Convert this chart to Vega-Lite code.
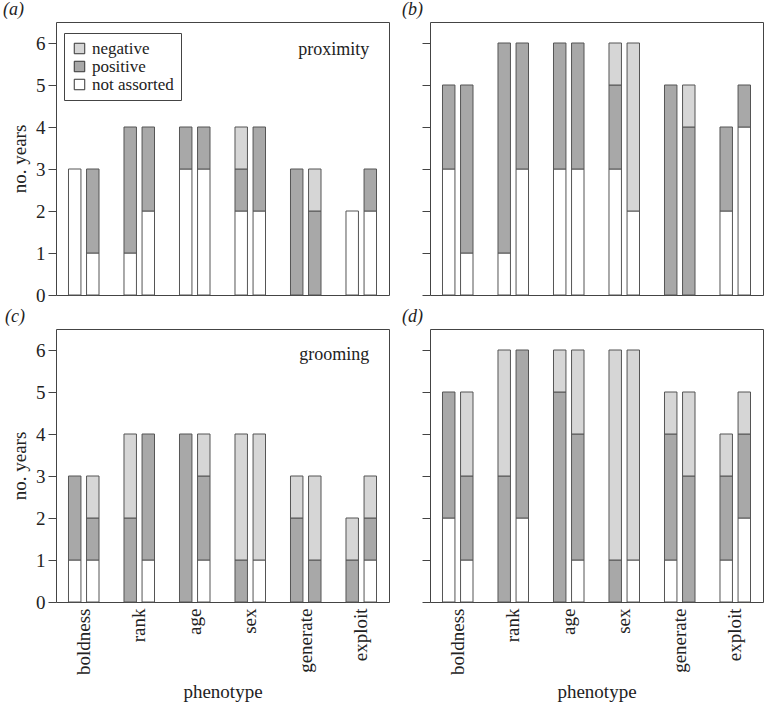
{
  "$schema": "https://vega.github.io/schema/vega-lite/v6.json",
  "padding": {"left": 2, "top": 0, "right": 2, "bottom": 0},
  "background": "white",
  "datasets": {
    "d": [
      {"p": "a", "ph": "boldness", "b": "1", "t": "not assorted", "n": 3},
      {"p": "a", "ph": "boldness", "b": "2", "t": "not assorted", "n": 1},
      {"p": "a", "ph": "boldness", "b": "2", "t": "positive", "n": 2},
      {"p": "a", "ph": "rank", "b": "1", "t": "not assorted", "n": 1},
      {"p": "a", "ph": "rank", "b": "1", "t": "positive", "n": 3},
      {"p": "a", "ph": "rank", "b": "2", "t": "not assorted", "n": 2},
      {"p": "a", "ph": "rank", "b": "2", "t": "positive", "n": 2},
      {"p": "a", "ph": "age", "b": "1", "t": "not assorted", "n": 3},
      {"p": "a", "ph": "age", "b": "1", "t": "positive", "n": 1},
      {"p": "a", "ph": "age", "b": "2", "t": "not assorted", "n": 3},
      {"p": "a", "ph": "age", "b": "2", "t": "positive", "n": 1},
      {"p": "a", "ph": "sex", "b": "1", "t": "not assorted", "n": 2},
      {"p": "a", "ph": "sex", "b": "1", "t": "positive", "n": 1},
      {"p": "a", "ph": "sex", "b": "1", "t": "negative", "n": 1},
      {"p": "a", "ph": "sex", "b": "2", "t": "not assorted", "n": 2},
      {"p": "a", "ph": "sex", "b": "2", "t": "positive", "n": 2},
      {"p": "a", "ph": "generate", "b": "1", "t": "positive", "n": 3},
      {"p": "a", "ph": "generate", "b": "2", "t": "positive", "n": 2},
      {"p": "a", "ph": "generate", "b": "2", "t": "negative", "n": 1},
      {"p": "a", "ph": "exploit", "b": "1", "t": "not assorted", "n": 2},
      {"p": "a", "ph": "exploit", "b": "2", "t": "not assorted", "n": 2},
      {"p": "a", "ph": "exploit", "b": "2", "t": "positive", "n": 1},

      {"p": "b", "ph": "boldness", "b": "1", "t": "not assorted", "n": 3},
      {"p": "b", "ph": "boldness", "b": "1", "t": "positive", "n": 2},
      {"p": "b", "ph": "boldness", "b": "2", "t": "not assorted", "n": 1},
      {"p": "b", "ph": "boldness", "b": "2", "t": "positive", "n": 4},
      {"p": "b", "ph": "rank", "b": "1", "t": "not assorted", "n": 1},
      {"p": "b", "ph": "rank", "b": "1", "t": "positive", "n": 5},
      {"p": "b", "ph": "rank", "b": "2", "t": "not assorted", "n": 3},
      {"p": "b", "ph": "rank", "b": "2", "t": "positive", "n": 3},
      {"p": "b", "ph": "age", "b": "1", "t": "not assorted", "n": 3},
      {"p": "b", "ph": "age", "b": "1", "t": "positive", "n": 3},
      {"p": "b", "ph": "age", "b": "2", "t": "not assorted", "n": 3},
      {"p": "b", "ph": "age", "b": "2", "t": "positive", "n": 3},
      {"p": "b", "ph": "sex", "b": "1", "t": "not assorted", "n": 3},
      {"p": "b", "ph": "sex", "b": "1", "t": "positive", "n": 2},
      {"p": "b", "ph": "sex", "b": "1", "t": "negative", "n": 1},
      {"p": "b", "ph": "sex", "b": "2", "t": "not assorted", "n": 2},
      {"p": "b", "ph": "sex", "b": "2", "t": "negative", "n": 4},
      {"p": "b", "ph": "generate", "b": "1", "t": "positive", "n": 5},
      {"p": "b", "ph": "generate", "b": "2", "t": "positive", "n": 4},
      {"p": "b", "ph": "generate", "b": "2", "t": "negative", "n": 1},
      {"p": "b", "ph": "exploit", "b": "1", "t": "not assorted", "n": 2},
      {"p": "b", "ph": "exploit", "b": "1", "t": "positive", "n": 2},
      {"p": "b", "ph": "exploit", "b": "2", "t": "not assorted", "n": 4},
      {"p": "b", "ph": "exploit", "b": "2", "t": "positive", "n": 1},

      {"p": "c", "ph": "boldness", "b": "1", "t": "not assorted", "n": 1},
      {"p": "c", "ph": "boldness", "b": "1", "t": "positive", "n": 2},
      {"p": "c", "ph": "boldness", "b": "2", "t": "not assorted", "n": 1},
      {"p": "c", "ph": "boldness", "b": "2", "t": "positive", "n": 1},
      {"p": "c", "ph": "boldness", "b": "2", "t": "negative", "n": 1},
      {"p": "c", "ph": "rank", "b": "1", "t": "positive", "n": 2},
      {"p": "c", "ph": "rank", "b": "1", "t": "negative", "n": 2},
      {"p": "c", "ph": "rank", "b": "2", "t": "not assorted", "n": 1},
      {"p": "c", "ph": "rank", "b": "2", "t": "positive", "n": 3},
      {"p": "c", "ph": "age", "b": "1", "t": "positive", "n": 4},
      {"p": "c", "ph": "age", "b": "2", "t": "not assorted", "n": 1},
      {"p": "c", "ph": "age", "b": "2", "t": "positive", "n": 2},
      {"p": "c", "ph": "age", "b": "2", "t": "negative", "n": 1},
      {"p": "c", "ph": "sex", "b": "1", "t": "positive", "n": 1},
      {"p": "c", "ph": "sex", "b": "1", "t": "negative", "n": 3},
      {"p": "c", "ph": "sex", "b": "2", "t": "not assorted", "n": 1},
      {"p": "c", "ph": "sex", "b": "2", "t": "negative", "n": 3},
      {"p": "c", "ph": "generate", "b": "1", "t": "positive", "n": 2},
      {"p": "c", "ph": "generate", "b": "1", "t": "negative", "n": 1},
      {"p": "c", "ph": "generate", "b": "2", "t": "positive", "n": 1},
      {"p": "c", "ph": "generate", "b": "2", "t": "negative", "n": 2},
      {"p": "c", "ph": "exploit", "b": "1", "t": "positive", "n": 1},
      {"p": "c", "ph": "exploit", "b": "1", "t": "negative", "n": 1},
      {"p": "c", "ph": "exploit", "b": "2", "t": "not assorted", "n": 1},
      {"p": "c", "ph": "exploit", "b": "2", "t": "positive", "n": 1},
      {"p": "c", "ph": "exploit", "b": "2", "t": "negative", "n": 1},

      {"p": "d", "ph": "boldness", "b": "1", "t": "not assorted", "n": 2},
      {"p": "d", "ph": "boldness", "b": "1", "t": "positive", "n": 3},
      {"p": "d", "ph": "boldness", "b": "2", "t": "not assorted", "n": 1},
      {"p": "d", "ph": "boldness", "b": "2", "t": "positive", "n": 2},
      {"p": "d", "ph": "boldness", "b": "2", "t": "negative", "n": 2},
      {"p": "d", "ph": "rank", "b": "1", "t": "positive", "n": 3},
      {"p": "d", "ph": "rank", "b": "1", "t": "negative", "n": 3},
      {"p": "d", "ph": "rank", "b": "2", "t": "not assorted", "n": 2},
      {"p": "d", "ph": "rank", "b": "2", "t": "positive", "n": 4},
      {"p": "d", "ph": "age", "b": "1", "t": "positive", "n": 5},
      {"p": "d", "ph": "age", "b": "1", "t": "negative", "n": 1},
      {"p": "d", "ph": "age", "b": "2", "t": "not assorted", "n": 1},
      {"p": "d", "ph": "age", "b": "2", "t": "positive", "n": 3},
      {"p": "d", "ph": "age", "b": "2", "t": "negative", "n": 2},
      {"p": "d", "ph": "sex", "b": "1", "t": "positive", "n": 1},
      {"p": "d", "ph": "sex", "b": "1", "t": "negative", "n": 5},
      {"p": "d", "ph": "sex", "b": "2", "t": "not assorted", "n": 1},
      {"p": "d", "ph": "sex", "b": "2", "t": "negative", "n": 5},
      {"p": "d", "ph": "generate", "b": "1", "t": "not assorted", "n": 1},
      {"p": "d", "ph": "generate", "b": "1", "t": "positive", "n": 3},
      {"p": "d", "ph": "generate", "b": "1", "t": "negative", "n": 1},
      {"p": "d", "ph": "generate", "b": "2", "t": "positive", "n": 3},
      {"p": "d", "ph": "generate", "b": "2", "t": "negative", "n": 2},
      {"p": "d", "ph": "exploit", "b": "1", "t": "not assorted", "n": 1},
      {"p": "d", "ph": "exploit", "b": "1", "t": "positive", "n": 2},
      {"p": "d", "ph": "exploit", "b": "1", "t": "negative", "n": 1},
      {"p": "d", "ph": "exploit", "b": "2", "t": "not assorted", "n": 2},
      {"p": "d", "ph": "exploit", "b": "2", "t": "positive", "n": 2},
      {"p": "d", "ph": "exploit", "b": "2", "t": "negative", "n": 1}
    ]
  },
  "spacing": 1,
  "resolve": {"legend": {"color": "independent"}},
  "vconcat": [
    {
      "bounds": "flush",
      "spacing": 41,
      "resolve": {"legend": {"color": "independent"}},
      "hconcat": [
        {
          "width": 333, "height": 273,
          "title": {"text": "(a)", "anchor": "start", "frame": "group", "dx": -53, "offset": 3, "fontStyle": "italic", "fontWeight": "normal", "fontSize": 18, "font": "Liberation Serif", "color": "#222"},
          "data": {"name": "d"},
          "transform": [{"filter": "datum.p == 'a'"}, {"calculate": "indexof(['not assorted','positive','negative'], datum.t)", "as": "k"}],
          "layer": [
            {
              "mark": {"type": "bar", "stroke": "#555", "strokeWidth": 1},
              "encoding": {
                "x": {"field": "ph", "type": "nominal", "sort": ["boldness", "rank", "age", "sex", "generate", "exploit"], "scale": {"paddingInner": 0.45, "paddingOuter": 0.225}, "axis": null},
                "xOffset": {"field": "b", "type": "nominal", "scale": {"paddingInner": 0.31, "paddingOuter": 0}},
                "y": {"field": "n", "type": "quantitative", "stack": "zero", "scale": {"domain": [0, 6.5], "nice": false}, "axis": {"values": [0, 1, 2, 3, 4, 5, 6], "title": "no. years"}},
                "color": {"field": "t", "type": "nominal", "scale": {"domain": ["negative", "positive", "not assorted"], "range": ["#d6d6d6", "#a8a8a8", "#ffffff"]}, "legend": {"orient": "none", "legendX": 8, "legendY": 11, "title": null}},
                "order": {"field": "k", "type": "quantitative"}
              }
            },
            {
              "data": {"values": [{"s": "proximity"}]},
              "mark": {"type": "text", "align": "right", "baseline": "middle", "dx": 8, "fontSize": 18, "font": "Liberation Serif", "color": "#222"},
              "encoding": {
                "x": {"datum": "exploit"},
                "y": {"datum": 5.83},
                "text": {"field": "s"}
              }
            }
          ]
        },
        {
          "width": 333, "height": 273,
          "title": {"text": "(b)", "anchor": "start", "frame": "group", "dx": -28, "offset": 3, "fontStyle": "italic", "fontWeight": "normal", "fontSize": 18, "font": "Liberation Serif", "color": "#222"},
          "data": {"name": "d"},
          "transform": [{"filter": "datum.p == 'b'"}, {"calculate": "indexof(['not assorted','positive','negative'], datum.t)", "as": "k"}],
          "mark": {"type": "bar", "stroke": "#555", "strokeWidth": 1},
          "encoding": {
            "x": {"field": "ph", "type": "nominal", "sort": ["boldness", "rank", "age", "sex", "generate", "exploit"], "scale": {"paddingInner": 0.45, "paddingOuter": 0.225}, "axis": null},
            "xOffset": {"field": "b", "type": "nominal", "scale": {"paddingInner": 0.31, "paddingOuter": 0}},
            "y": {"field": "n", "type": "quantitative", "stack": "zero", "scale": {"domain": [0, 6.5], "nice": false}, "axis": {"values": [0, 1, 2, 3, 4, 5, 6], "labels": false, "title": null}},
            "color": {"field": "t", "type": "nominal", "scale": {"domain": ["negative", "positive", "not assorted"], "range": ["#d6d6d6", "#a8a8a8", "#ffffff"]}, "legend": null},
            "order": {"field": "k", "type": "quantitative"}
          }
        }
      ]
    },
    {
      "bounds": "flush",
      "spacing": 41,
      "resolve": {"legend": {"color": "independent"}},
      "hconcat": [
        {
          "width": 333, "height": 273,
          "title": {"text": "(c)", "anchor": "start", "frame": "group", "dx": -51, "offset": 3, "fontStyle": "italic", "fontWeight": "normal", "fontSize": 18, "font": "Liberation Serif", "color": "#222"},
          "data": {"name": "d"},
          "transform": [{"filter": "datum.p == 'c'"}, {"calculate": "indexof(['not assorted','positive','negative'], datum.t)", "as": "k"}],
          "layer": [
            {
              "mark": {"type": "bar", "stroke": "#555", "strokeWidth": 1},
              "encoding": {
                "x": {"field": "ph", "type": "nominal", "sort": ["boldness", "rank", "age", "sex", "generate", "exploit"], "scale": {"paddingInner": 0.45, "paddingOuter": 0.225}, "axis": {"title": "phenotype"}},
                "xOffset": {"field": "b", "type": "nominal", "scale": {"paddingInner": 0.31, "paddingOuter": 0}},
                "y": {"field": "n", "type": "quantitative", "stack": "zero", "scale": {"domain": [0, 6.5], "nice": false}, "axis": {"values": [0, 1, 2, 3, 4, 5, 6], "title": "no. years"}},
                "color": {"field": "t", "type": "nominal", "scale": {"domain": ["negative", "positive", "not assorted"], "range": ["#d6d6d6", "#a8a8a8", "#ffffff"]}, "legend": null},
                "order": {"field": "k", "type": "quantitative"}
              }
            },
            {
              "data": {"values": [{"s": "grooming"}]},
              "mark": {"type": "text", "align": "right", "baseline": "middle", "dx": 8, "fontSize": 18, "font": "Liberation Serif", "color": "#222"},
              "encoding": {
                "x": {"datum": "exploit"},
                "y": {"datum": 5.87},
                "text": {"field": "s"}
              }
            }
          ]
        },
        {
          "width": 333, "height": 273,
          "title": {"text": "(d)", "anchor": "start", "frame": "group", "dx": -28, "offset": 3, "fontStyle": "italic", "fontWeight": "normal", "fontSize": 18, "font": "Liberation Serif", "color": "#222"},
          "data": {"name": "d"},
          "transform": [{"filter": "datum.p == 'd'"}, {"calculate": "indexof(['not assorted','positive','negative'], datum.t)", "as": "k"}],
          "mark": {"type": "bar", "stroke": "#555", "strokeWidth": 1},
          "encoding": {
            "x": {"field": "ph", "type": "nominal", "sort": ["boldness", "rank", "age", "sex", "generate", "exploit"], "scale": {"paddingInner": 0.45, "paddingOuter": 0.225}, "axis": {"title": "phenotype"}},
            "xOffset": {"field": "b", "type": "nominal", "scale": {"paddingInner": 0.31, "paddingOuter": 0}},
            "y": {"field": "n", "type": "quantitative", "stack": "zero", "scale": {"domain": [0, 6.5], "nice": false}, "axis": {"values": [0, 1, 2, 3, 4, 5, 6], "labels": false, "title": null}},
            "color": {"field": "t", "type": "nominal", "scale": {"domain": ["negative", "positive", "not assorted"], "range": ["#d6d6d6", "#a8a8a8", "#ffffff"]}, "legend": null},
            "order": {"field": "k", "type": "quantitative"}
          }
        }
      ]
    }
  ],
  "config": {
    "font": "Liberation Serif",
    "view": {"stroke": "#444", "strokeWidth": 1},
    "axisY": {"domain": false, "grid": false, "tickSize": 8, "tickColor": "#444", "labelFont": "Liberation Serif", "labelFontSize": 19, "labelColor": "#222", "labelPadding": 3, "titleFont": "Liberation Serif", "titleFontSize": 19, "titleFontWeight": "normal", "titleColor": "#222", "titlePadding": 6},
    "axisX": {"domain": false, "grid": false, "ticks": false, "labelAngle": -90, "labelAlign": "right", "labelBaseline": "middle", "labelPadding": 6, "labelFont": "Liberation Serif", "labelFontSize": 19, "labelColor": "#222", "titleFont": "Liberation Serif", "titleFontSize": 19, "titleFontWeight": "normal", "titleColor": "#222", "titlePadding": 8},
    "legend": {"symbolType": "square", "symbolSize": 110, "symbolStrokeColor": "#333", "symbolStrokeWidth": 1, "labelFont": "Liberation Serif", "labelFontSize": 17, "labelColor": "#222", "strokeColor": "#444", "padding": 7, "rowPadding": 0, "labelOffset": 4}
  }
}
